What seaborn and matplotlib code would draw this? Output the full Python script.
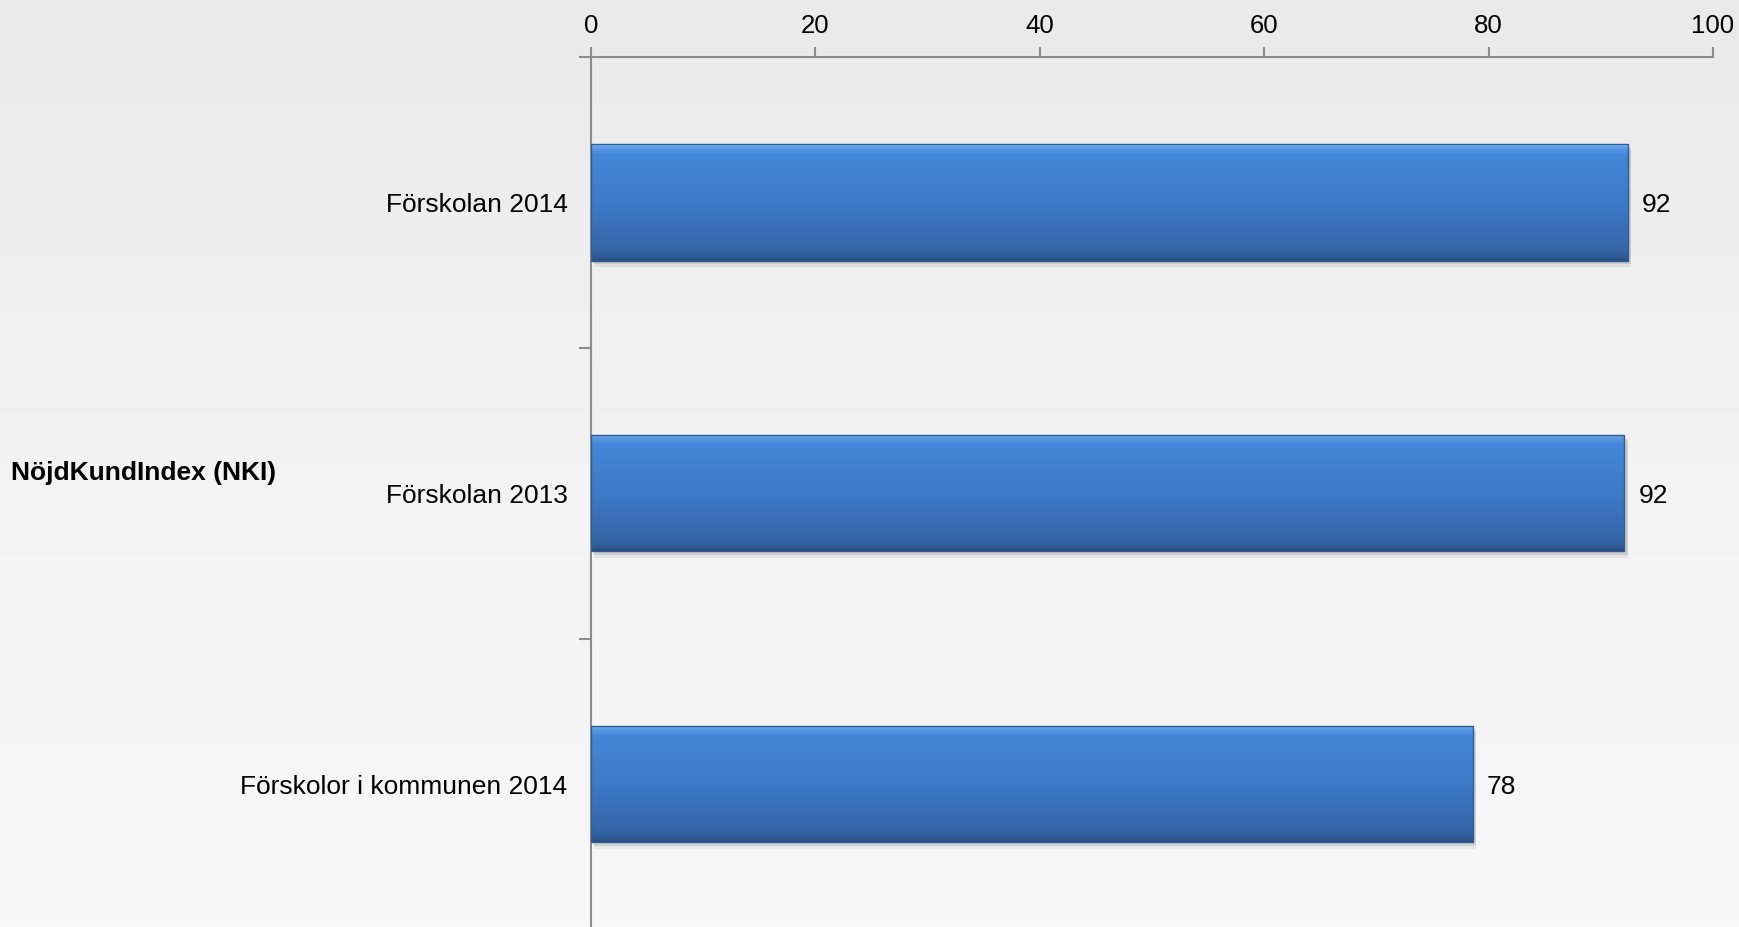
import numpy as np
import pandas as pd
import matplotlib
matplotlib.use("Agg")
import matplotlib.pyplot as plt
import seaborn as sns
from matplotlib.colors import LinearSegmentedColormap
from matplotlib.patches import Rectangle

categories = ["Förskolan 2014", "Förskolan 2013", "Förskolor i kommunen 2014"]
values = [92.4, 92.1, 78.6]
value_labels = ["92", "92", "78"]
xticks = [0, 20, 40, 60, 80, 100]
group_label = "NöjdKundIndex (NKI)"

sns.set_theme(style="white")
plt.rcParams['font.family'] = ['Liberation Sans', 'DejaVu Sans']

W, H = 1739, 927
fig = plt.figure(figsize=(W / 100, H / 100), dpi=100)

# background gradient
bg = fig.add_axes([0, 0, 1, 1], zorder=-10)
grad = np.linspace(0, 1, 256).reshape(-1, 1)
bg_cmap = LinearSegmentedColormap.from_list('bg', ['#EAEAEA', '#F3F3F3', '#F8F8F8'])
bg.imshow(grad, aspect='auto', cmap=bg_cmap, extent=[0, 1, 0, 1], origin='upper')
bg.axis('off')

ax = fig.add_axes([591 / W, -2.5 / H, (1713 - 591) / W, (927 - 57 + 2.5) / H])
ax.patch.set_alpha(0)

df = pd.DataFrame({'category': categories, 'value': values})
sns.barplot(data=df, y='category', x='value', orient='h', color='#3F7CC8',
            width=0.4, saturation=1, ax=ax)

ax.set_xlim(0, 100)
ax.set_ylim(2.5, -0.5)

bar_cmap = LinearSegmentedColormap.from_list(
    'bar', [(0.0, '#7DB8F5'), (0.03, '#5B9BE8'), (0.09, '#4486D7'),
            (0.5, '#3D7AC8'), (0.9, '#3566A8'), (0.97, '#2F5A94'), (1.0, '#284C80')])

for p in list(ax.patches):
    x0, y0, w, h = p.get_x(), p.get_y(), p.get_width(), p.get_height()
    # soft shadow below
    for k, a in [(0.012, 0.10), (0.022, 0.06)]:
        ax.add_patch(Rectangle((x0 + 0.3, y0 + k), w, h, facecolor='#000000',
                               alpha=a, edgecolor='none', zorder=1))
    im = ax.imshow(np.linspace(0, 1, 256).reshape(-1, 1), cmap=bar_cmap, aspect='auto',
                   extent=[x0, x0 + w, y0 + h, y0], origin='upper', zorder=2)
    im.set_clip_path(p)
    p.set_facecolor('none')
    p.set_edgecolor('#2F5C95')
    p.set_linewidth(1.0)
    p.set_zorder(3)

ax.set_xlim(0, 100)
ax.set_ylim(2.5, -0.5)

for i, (v, lab) in enumerate(zip(values, value_labels)):
    ax.annotate(lab, (v, i), xytext=(10, 0), textcoords='offset points',
                va='center_baseline', ha='left', fontsize=19, color='black')

ax.xaxis.tick_top()
ax.set_xticks(xticks)
ax.set_xticklabels([str(t) for t in xticks])
ax.set_xlabel('')
ax.set_ylabel('')
for s in ['bottom', 'right']:
    ax.spines[s].set_visible(False)
for s in ['top', 'left']:
    ax.spines[s].set_visible(True)
    ax.spines[s].set_color('#8C8C8C')
    ax.spines[s].set_linewidth(1.5)

ax.tick_params(axis='x', which='major', top=True, bottom=False, direction='out',
               length=7, width=1.5, color='#8C8C8C', labelsize=18.5, pad=7,
               labelcolor='black')
ax.set_yticks([0, 1, 2])
ax.set_yticklabels(categories)
ax.set_yticks([-0.5, 0.5, 1.5, 2.5], minor=True)
ax.tick_params(axis='y', which='major', left=True, length=0, labelsize=19,
               pad=17, labelcolor='black')
ax.tick_params(axis='y', which='minor', left=True, direction='out', length=9,
               width=1.5, color='#8C8C8C')
ax.grid(False)

fig.text(11 / W, 1 - 473 / H, group_label, fontsize=19, fontweight='bold',
         va='center', ha='left', color='black')

fig.savefig('out.png', dpi=100)
